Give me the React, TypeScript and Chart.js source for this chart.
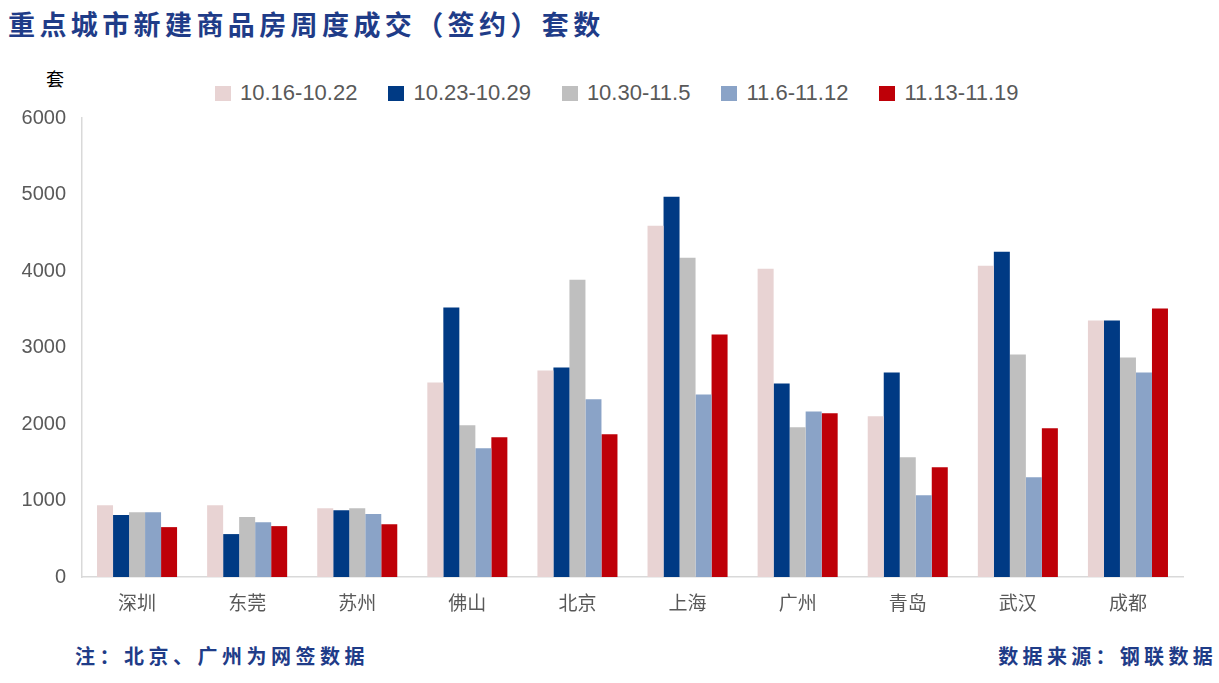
import React, { useEffect, useRef } from "react";
import { Chart, registerables } from "chart.js";

Chart.register(...registerables);

const categories = ["深圳", "东莞", "苏州", "佛山", "北京", "上海", "广州", "青岛", "武汉", "成都"];
const seriesLabels = ["10.16-10.22", "10.23-10.29", "10.30-11.5", "11.6-11.12", "11.13-11.19"];
const seriesColors = ["#E8D3D3", "#003A84", "#BFBFBF", "#8AA3C7", "#BE0008"];

const week1 = [939, 939, 900, 2543, 2700, 4591, 4030, 2100, 4070, 3352];
const week2 = [809, 561, 874, 3522, 2739, 4970, 2530, 2674, 4252, 3352];
const week3 = [848, 783, 900, 1983, 3887, 4174, 1957, 1565, 2909, 2870];
const week4 = [848, 717, 822, 1683, 2322, 2387, 2165, 1070, 1304, 2674];
const week5 = [652, 665, 691, 1826, 1865, 3170, 2139, 1435, 1943, 3509];

const seriesValues = [week1, week2, week3, week4, week5];

const yTicks = [0, 1000, 2000, 3000, 4000, 5000, 6000];

const CJK = '"Noto Sans CJK SC", "Noto Sans", sans-serif';
const LATIN = '"Liberation Sans", Arial, sans-serif';

export default function App() {
  const canvasRef = useRef<HTMLCanvasElement | null>(null);

  useEffect(() => {
    document.body.style.margin = "0";
    const canvas = canvasRef.current;
    if (!canvas) return;
    const chart = new Chart(canvas, {
      type: "bar",
      data: {
        labels: categories,
        datasets: seriesValues.map((vals, i) => ({
          label: seriesLabels[i],
          data: vals,
          backgroundColor: seriesColors[i],
          borderWidth: 0,
          categoryPercentage: 0.727,
          barPercentage: 1.0,
        })),
      },
      options: {
        responsive: false,
        animation: false,
        devicePixelRatio: 1,
        layout: { padding: { top: 7, left: 0, right: 36, bottom: 13 } },
        plugins: {
          legend: { display: false },
          title: { display: false },
          tooltip: { enabled: false },
        },
        scales: {
          x: {
            grid: { display: false, drawTicks: false },
            border: { display: true, color: "#D9D9D9", width: 1.5 },
            ticks: {
              color: "#595959",
              font: { family: CJK, size: 19 },
              padding: 14,
            },
            afterFit: (scale: any) => {
              scale.height = 50;
            },
          },
          y: {
            min: 0,
            max: 6000,
            afterBuildTicks: (scale: any) => {
              scale.ticks = yTicks.map((v) => ({ value: v }));
            },
            grid: { display: false, drawTicks: false },
            border: { display: true, color: "#D9D9D9", width: 1.5 },
            ticks: {
              color: "#595959",
              font: { family: LATIN, size: 20 },
              padding: 16,
              callback: (v: any) => String(v),
            },
            afterFit: (scale: any) => {
              scale.width = 82;
            },
          },
        },
      },
    });
    return () => chart.destroy();
  }, []);

  return (
    <div style={{ position: "relative", width: 1219, height: 683, background: "#fff", overflow: "hidden" }}>
      <div
        style={{
          position: "absolute",
          left: 8,
          top: 6,
          fontFamily: CJK,
          fontWeight: 700,
          fontSize: 27,
          letterSpacing: 4.4,
          color: "#1F3C88",
          whiteSpace: "nowrap",
          lineHeight: "36px",
        }}
      >
        重点城市新建商品房周度成交（签约）套数
      </div>
      <div
        style={{
          position: "absolute",
          left: 46,
          top: 66,
          fontFamily: CJK,
          fontSize: 18,
          color: "#000",
          lineHeight: "24px",
        }}
      >
        套
      </div>
      <div
        style={{
          position: "absolute",
          left: 215,
          top: 79,
          height: 28,
          display: "flex",
          alignItems: "center",
          whiteSpace: "nowrap",
        }}
      >
        {seriesLabels.map((lab, i) => (
          <div key={lab} style={{ display: "flex", alignItems: "center", marginRight: 31 }}>
            <div style={{ width: 16, height: 15, background: seriesColors[i], marginRight: 9 }} />
            <span style={{ fontFamily: LATIN, fontSize: 22, color: "#595959" }}>{lab}</span>
          </div>
        ))}
      </div>
      <canvas
        ref={canvasRef}
        width={1219}
        height={550}
        style={{ position: "absolute", left: 0, top: 90, width: 1219, height: 550 }}
      />
      <div
        style={{
          position: "absolute",
          left: 75,
          top: 643,
          fontFamily: CJK,
          fontWeight: 700,
          fontSize: 20,
          letterSpacing: 4.5,
          color: "#1F3C88",
          whiteSpace: "nowrap",
          lineHeight: "26px",
        }}
      >
        注：北京、广州为网签数据
      </div>
      <div
        style={{
          position: "absolute",
          right: 2,
          top: 643,
          fontFamily: CJK,
          fontWeight: 700,
          fontSize: 20,
          letterSpacing: 4.3,
          color: "#1F3C88",
          whiteSpace: "nowrap",
          lineHeight: "26px",
        }}
      >
        数据来源：钢联数据
      </div>
    </div>
  );
}
